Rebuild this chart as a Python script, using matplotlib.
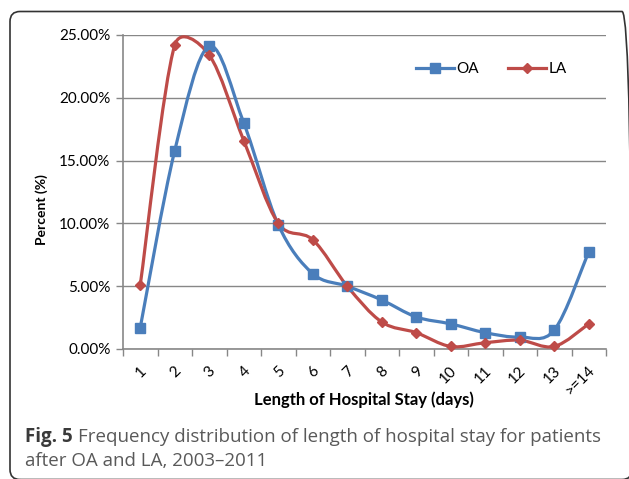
import numpy as np
import matplotlib
matplotlib.use('Agg')
import matplotlib.pyplot as plt
from matplotlib.path import Path
from matplotlib.patches import PathPatch, FancyBboxPatch
from matplotlib.lines import Line2D
import matplotlib.transforms as mtransforms

# Length of stay categories and percentages
days = ['1', '2', '3', '4', '5', '6', '7', '8', '9', '10', '11', '12', '13', '>=14']
oa = [1.7, 15.8, 24.1, 18.0, 9.9, 6.0, 5.0, 3.9, 2.55, 2.0, 1.3, 0.95, 1.5, 7.75]
la = [5.1, 24.2, 23.4, 16.6, 10.0, 8.7, 5.0, 2.15, 1.3, 0.2, 0.5, 0.7, 0.2, 2.0]

blue = '#4A7EBB'
red = '#BE4B48'
grid_c = '#878787'

W, H = 629, 479
fig = plt.figure(figsize=(W / 100, H / 100), dpi=100)
plt.rcParams['font.family'] = 'Lato'

ax = fig.add_axes([123 / W, 1 - 349 / H, 483 / W, 314 / H])
ax.set_xlim(0.5, len(days) + 0.5)
ax.set_ylim(0, 25)


def smooth_path(xs, ys, sx, sy):
    # Excel style smoothed line, worked out in pixel space (sx, sy = px per unit)
    pts = np.column_stack([np.asarray(xs, float) * sx, np.asarray(ys, float) * sy])
    n = len(pts)
    verts = [pts[0]]
    codes = [Path.MOVETO]
    for i in range(n - 1):
        p0 = pts[max(i - 1, 0)]
        p1 = pts[i]
        p2 = pts[i + 1]
        p3 = pts[min(i + 2, n - 1)]
        d12 = np.hypot(*(p2 - p1))
        d02 = np.hypot(*(p2 - p0))
        d13 = np.hypot(*(p3 - p1))
        f0 = d12 / d02 / 2 if d02 / 6 >= d12 / 2 and d02 > 0 else 1 / 6
        f1 = d12 / d13 / 2 if d13 / 6 >= d12 / 2 and d13 > 0 else 1 / 6
        c1 = p1 + (p2 - p0) * f0
        c2 = p2 - (p3 - p1) * f1
        verts += [c1, c2, p2]
        codes += [Path.CURVE4] * 3
    verts = np.array(verts) / [sx, sy]
    return Path(verts, codes)


bbox = ax.get_window_extent()
sx = bbox.width / (len(days))
sy = bbox.height / 25

x = np.arange(1, len(days) + 1)
for vals, col, mk, ms in [(oa, blue, 's', 7.5), (la, red, 'D', 5.5)]:
    ax.add_patch(PathPatch(smooth_path(x, vals, sx, sy), facecolor='none', edgecolor=col,
                           lw=2.3, capstyle='round', joinstyle='round', zorder=3,
                           clip_on=False))
    ax.plot(x, vals, linestyle='none', marker=mk, markersize=ms, color=col, zorder=4,
            clip_on=False)

ax.set_yticks(np.arange(0, 26, 5))
ax.set_yticklabels([f'{v:.2f}%' for v in np.arange(0, 26, 5)], fontsize=11)
ax.yaxis.grid(True, color=grid_c, lw=1.0)
ax.set_axisbelow(True)

ax.set_xticks(x)
ax.set_xticklabels(days, fontsize=11, rotation=45, ha='right', va='center',
                   rotation_mode='anchor')
ax.set_xticks(np.arange(0.5, len(days) + 1, 1), minor=True)
ax.tick_params(axis='x', which='major', length=0, pad=14)
ax.tick_params(axis='x', which='minor', length=5, color=grid_c, width=1)
ax.tick_params(axis='y', length=5, color=grid_c, width=1, pad=4)
offset = mtransforms.ScaledTranslation(4 / 100, 0, fig.dpi_scale_trans)
for lbl in ax.get_xticklabels():
    lbl.set_transform(lbl.get_transform() + offset)

for s in ['top', 'right']:
    ax.spines[s].set_visible(False)
for s in ['left', 'bottom']:
    ax.spines[s].set_color(grid_c)
    ax.spines[s].set_linewidth(1.2)

fig.text(364 / W, 1 - 400 / H, 'Length of Hospital Stay (days)', fontsize=12,
         fontweight='bold', ha='center', va='center')
fig.text(42 / W, 1 - 210 / H, 'Percent (%)', rotation=90, fontsize=10, fontweight='bold',
         ha='center', va='center')

handles = [Line2D([], [], color=blue, lw=2.3, marker='s', markersize=7.5),
           Line2D([], [], color=red, lw=2.3, marker='D', markersize=5.5)]
fig.legend(handles, ['OA', 'LA'], loc='center', bbox_to_anchor=(491 / W, 1 - 69 / H),
           ncol=2, frameon=False, fontsize=11, handlelength=2.5, handletextpad=0.15,
           columnspacing=1.9)

# Caption below the chart
cap = {'family': 'Open Sans', 'fontsize': 13.5}
t1 = fig.text(25 / W, 1 - 437 / H, 'Fig. 5', fontweight='bold', color='#3a3a3a',
              va='center', **cap)
fig.canvas.draw()
bb = t1.get_window_extent()
fig.text((bb.x1 + 5) / W, 1 - 437 / H,
         'Frequency distribution of length of hospital stay for patients',
         color='#595959', va='center', **cap)
fig.text(25 / W, 1 - 461 / H, 'after OA and LA, 2003\u20132011', color='#595959',
         va='center', **cap)

# Rounded frame around the figure
frame = FancyBboxPatch((10, -0.5), 622, 468, boxstyle='round,pad=0,rounding_size=10',
                       transform=mtransforms.IdentityTransform(), facecolor='none',
                       edgecolor='#333333', lw=1.2)
fig.patches.append(frame)

fig.savefig('out.png', dpi=100)
